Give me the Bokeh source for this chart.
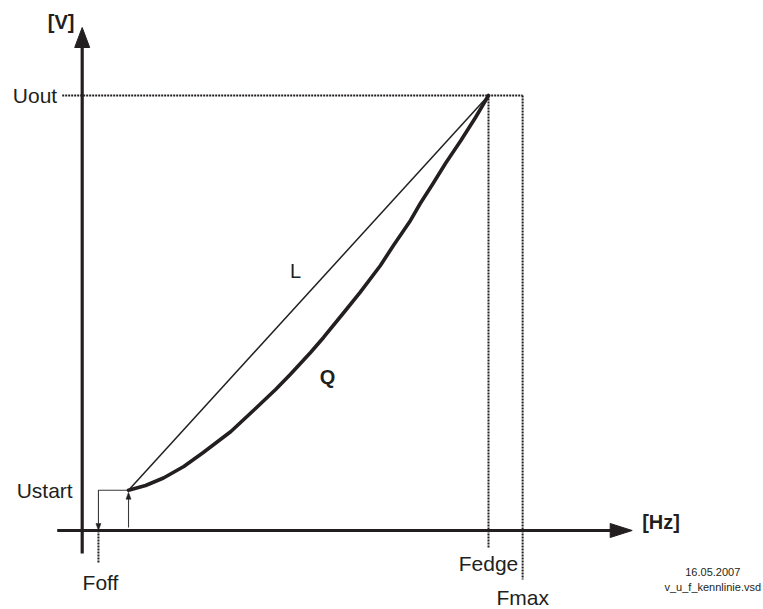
from bokeh.plotting import figure
from bokeh.models import Range1d
from bokeh.core.properties import value
from bokeh.embed import file_html
from bokeh.resources import INLINE

# ---- characteristic values (Hz / V) ----
F_OFF = 2.0
F_START = 5.7
F_EDGE = 50.0
F_MAX = 54.2
U_START = 37.0
U_OUT = 400.0

# linear characteristic L
l_f = [F_START, F_EDGE]
l_u = [U_START, U_OUT]

# quadratic characteristic Q
q_f = [5.7, 7.8, 10.0, 12.5, 14.9, 18.3, 21.3, 23.8, 25.6, 28.1, 29.7, 32.4,
       34.2, 36.7, 38.3, 40.4, 41.6, 43.1, 44.7, 46.6, 48.4, 50.0]
q_u = [37, 41.4, 48.3, 58.9, 71.7, 91, 112, 129.7, 143.4, 163.7, 177.5, 202.3,
       218.9, 243.7, 262.1, 285.1, 300.7, 318.2, 337.5, 358.6, 379.8, 400]

axis_labels = ["[V]", "[Hz]"]
level_labels = ["Uout", "Ustart"]
freq_labels = ["Foff", "Fedge", "Fmax"]
curve_labels = ["L", "Q"]
footer = ["16.05.2007", "v_u_f_kennlinie.vsd"]

# ---- layout (pixels) ----
W, H = 763, 609
OX, OY = 81.7, 530.0          # pixel of origin
SX = 8.126                    # px per Hz
SY = 1.0875                   # px per V
PAGE = 0


def dx(px):
    return px / SX


def dy(px):
    return px / SY


p = figure(width=W, height=H, output_backend="svg", toolbar_location=None,
           x_axis_type=None, y_axis_type=None, min_border=0,
           x_range=Range1d((PAGE - OX) / SX, (PAGE + W - OX) / SX),
           y_range=Range1d((OY - (PAGE + H)) / SY, (OY - PAGE) / SY))
p.outline_line_color = None
p.background_fill_color = "white"
p.border_fill_color = "white"

FONT = value("Liberation Sans")
INK = "#231f20"

# axes
x_tip = dx(550)
y_tip = dy(503)
p.line([-dx(25), x_tip - dx(20)], [0, 0], line_width=3.2, line_color=INK)
p.line([0, 0], [-dy(23), y_tip - dy(18)], line_width=3.2, line_color=INK)


def head(tx, ty, direction, length, half):
    if direction == "right":
        return [tx, tx - dx(length), tx - dx(length)], [ty, ty + dy(half), ty - dy(half)]
    if direction == "up":
        return [tx, tx - dx(half), tx + dx(half)], [ty, ty - dy(length), ty - dy(length)]
    return [tx, tx - dx(half), tx + dx(half)], [ty, ty + dy(length), ty + dy(length)]


hx, hy = [], []
for args in [(x_tip, 0, "right", 22, 7), (0, y_tip, "up", 20, 7.5)]:
    a, b = head(*args)
    hx.append(a)
    hy.append(b)
p.patches(hx, hy, fill_color=INK, line_color=INK, line_width=1)

# dotted reference lines
DOT = dict(line_width=2, line_dash="2 1", line_color=INK)
p.line([-dx(20), F_MAX], [U_OUT, U_OUT], **DOT)
p.line([F_EDGE, F_EDGE], [U_OUT, -dy(18)], **DOT)
p.line([F_MAX, F_MAX], [U_OUT, -dy(49)], **DOT)
p.line([F_OFF, F_OFF], [0, -dy(32)], **DOT)

# Ustart / Foff bracket
GR = "#3a3a3a"
p.line([F_OFF, F_OFF, F_START], [dy(7), U_START, U_START], line_width=1.1, line_color=GR)
p.line([F_START, F_START], [dy(3), U_START - dy(7)], line_width=1.1, line_color=GR)
sx_, sy_ = [], []
for args in [(F_OFF, 0, "down", 7, 2.5), (F_START, U_START - dy(2), "up", 7, 2.5)]:
    a, b = head(*args)
    sx_.append(a)
    sy_.append(b)
p.patches(sx_, sy_, fill_color=INK, line_color=INK, line_width=0.5)

# characteristics
p.line(l_f, l_u, line_width=1.5, line_color=INK)
p.line(q_f, q_u, line_width=3.6, line_color=INK, line_join="round", line_cap="round")

# labels
common = dict(text_font=FONT, text_color=INK, text_baseline="middle")
p.text([0], [y_tip], text=[axis_labels[0]], x_offset=-7.7, y_offset=-6,
       text_align="right", text_font_size="20px", text_font_style="bold", **common)
p.text([x_tip], [0], text=[axis_labels[1]], x_offset=10, y_offset=-9,
       text_align="left", text_font_size="20px", text_font_style="bold", **common)
p.text([0, 0], [U_OUT, U_START], text=level_labels, x_offset=[-25, -9.5],
       text_align="right", text_font_size="21px", **common)
p.text([F_OFF, F_EDGE, F_MAX], [0, 0, 0], text=freq_labels,
       x_offset=[2, 0, 0], y_offset=[52, 33, 67],
       text_align="center", text_font_size="21px", **common)
p.text([26.25], [239], text=[curve_labels[0]], text_align="center",
       text_font_size="20px", **common)
p.text([30.2], [141.6], text=[curve_labels[1]], text_align="center",
       text_font_size="20px", text_font_style="bold", **common)
p.text([77.6, 77.6], [-38.6, -51.5], text=footer, text_align="center",
       text_font_size="11px", **common)

open("out.html", "w").write(file_html(p, INLINE))
